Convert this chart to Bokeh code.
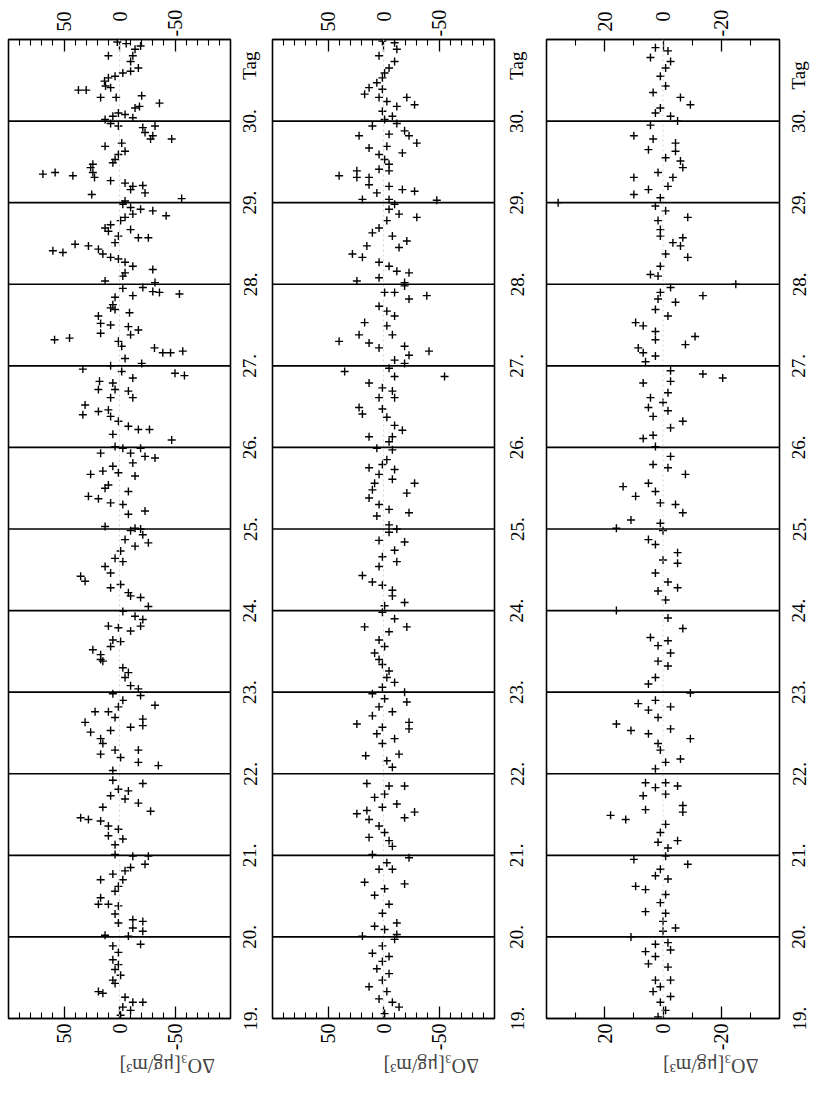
import math
from bokeh.plotting import figure
from bokeh.models import Range1d, FixedTicker, LinearAxis, Span
from bokeh.layouts import row
from bokeh.embed import file_html
from bokeh.resources import INLINE

# ---------------- data ----------------
tag_ticks = [19, 20, 21, 22, 23, 24, 25, 26, 27, 28, 29, 30]
tag_tick_labels = ["19.", "20.", "21.", "22.", "23.", "24.", "25.", "26.", "27.", "28.", "29.", "30."]
day_lines = [20, 21, 22, 23, 24, 25, 26, 27, 28, 29, 30]
tag_range = [19, 31]

panel1_range = 100
panel1_major = [-50, 0, 50]
panel1_minor = [-90, -80, -70, -60, -40, -30, -20, -10, 10, 20, 30, 40, 60, 70, 80, 90]
panel1_labels = ["-50", "0", "50"]

panel2_range = 100
panel2_major = [-50, 0, 50]
panel2_minor = [-90, -80, -70, -60, -40, -30, -20, -10, 10, 20, 30, 40, 60, 70, 80, 90]
panel2_labels = ["-50", "0", "50"]

panel3_range = 40
panel3_major = [-20, 0, 20]
panel3_minor = [-30, -10, 10, 30]
panel3_labels = ["-20", "0", "20"]

# (Tag, dO3) pairs
panel1_points = [
    (30.97, 2), (30.95, -6), (30.92, -19), (30.88, -14), (30.80, 10), (30.80, -12), (30.73, -10),
    (30.65, -17), (30.61, -10), (30.59, -3), (30.55, 4), (30.53, 10), (30.49, 13.5), (30.43, 12.6),
    (30.41, 8), (30.38, 37), (30.38, 30), (30.29, 17), (30.29, 3), (30.31, -20), (30.18, -18),
    (30.22, -36), (30.16, -14), (30.10, 1), (30.08, -5), (30.04, -12), (30.06, 6), (30.02, 13),
    (29.97, 8), (29.94, 1), (29.92, -21), (29.94, -32), (29.86, -23), (29.82, -30), (29.78, -47),
    (29.78, -28), (29.69, 13), (29.73, -2), (29.63, -5), (29.59, 1), (29.53, 4), (29.49, 6),
    (29.47, 24), (29.43, 26), (29.37, 24), (29.31, 22.5), (29.35, 69), (29.37, 58), (29.33, 42),
    (29.27, 8), (29.24, -5), (29.20, -12), (29.21, -21), (29.16, -10), (29.12, -23), (29.10, 25),
    (29.05, -56), (29.02, -5),
    (28.98, -3), (28.94, -10), (28.92, -19), (28.90, -30), (28.84, -42), (28.86, -12), (28.82, -5),
    (28.78, -1), (28.73, 8), (28.69, 13), (28.65, 10), (28.67, -10), (28.57, -17), (28.57, -26),
    (28.59, 1), (28.51, 4), (28.41, 60), (28.39, 51), (28.49, 40), (28.47, 28), (28.43, 19),
    (28.37, 15), (28.33, 8), (28.31, 1), (28.27, -5), (28.22, -12), (28.18, -30), (28.14, -5),
    (28.10, -3), (28.04, 13), (28.02, -32),
    (27.96, -21), (27.91, -30), (27.90, -36), (27.88, -54), (27.86, -12), (27.95, -3), (27.84, 4),
    (27.75, 6), (27.69, 4), (27.71, 8), (27.65, -9), (27.61, 19), (27.52, 17), (27.50, 8),
    (27.40, 17), (27.48, -8), (27.44, -17), (27.38, -10), (27.32, 58.5), (27.34, 45), (27.30, 1),
    (27.24, -2), (27.22, -31.5), (27.16, -39), (27.16, -46), (27.18, -57), (27.09, -5), (27.03, -20),
    (26.96, 33), (27.00, 8), (26.93, -2), (26.85, -12), (26.91, -50), (26.88, -58.5), (26.81, 18),
    (26.79, 6), (26.71, 19), (26.71, 4), (26.69, -8), (26.61, 8), (26.61, -12), (26.52, 31),
    (26.40, 33), (26.44, 19), (26.46, 10), (26.38, 8), (26.32, 1), (26.26, -8), (26.22, -17),
    (26.22, -27), (26.16, 6), (26.09, -47), (26.01, 4),
    (25.99, -3), (25.99, -19), (25.93, -10), (25.87, -32), (25.89, -23), (25.81, -12), (25.93, 17),
    (25.77, 6), (25.67, 26), (25.71, 15), (25.69, 1), (25.65, -14), (25.54, 10), (25.50, 13),
    (25.46, -8), (25.40, 28), (25.37, 19), (25.32, 8), (25.30, -3), (25.22, -23), (25.18, -8),
    (25.03, 13), (25.01, -14), (25.00, -19),
    (24.98, -10), (24.93, -21), (24.87, -5), (24.83, -26), (24.79, -14), (24.73, -1), (24.64, 4),
    (24.60, -3), (24.54, 13), (24.46, 8), (24.42, 35), (24.36, 31), (24.28, 8), (24.32, -1),
    (24.22, -8), (24.16, -19), (24.05, -26), (24.18, -10),
    (23.99, -3), (23.93, -14), (23.89, -21), (23.81, 10), (23.79, 1), (23.81, -19), (23.75, -10),
    (23.64, 6), (23.62, -1), (23.56, 8), (23.52, 24), (23.46, 17), (23.38, 15), (23.40, 17),
    (23.30, -3), (23.24, -8), (23.18, -5), (23.08, -10), (23.04, -17),
    (22.98, 6), (22.96, -19), (22.84, -32), (22.90, -3), (22.82, 1), (22.76, 22), (22.76, 10),
    (22.63, 31), (22.69, 4), (22.57, -10), (22.67, -21), (22.59, -21), (22.53, 8), (22.51, 26),
    (22.43, 17), (22.37, 15), (22.24, 17), (22.29, 4), (22.20, -1), (22.29, -17), (22.14, -17),
    (22.10, -35), (22.04, 6),
    (21.92, 6), (21.88, -21), (21.81, 1), (21.79, -8), (21.73, 8), (21.69, -5), (21.64, -17),
    (21.54, -28), (21.59, 15), (21.46, 35), (21.44, 28), (21.42, 17), (21.36, 10), (21.32, 1),
    (21.24, 10), (21.20, -3), (21.13, 4),
    (21.01, 4), (20.99, -12), (20.99, -26), (20.89, -23), (20.85, -10), (20.81, -5), (20.77, 6),
    (20.70, 17), (20.70, -3), (20.62, 1), (20.56, 4), (20.48, 17), (20.40, 19), (20.40, 10),
    (20.38, 1), (20.28, 4), (20.17, 1), (20.21, -12), (20.19, -21), (20.11, -12), (20.07, -21),
    (20.02, 13), (20.01, -8), (19.91, -19), (19.89, 6), (19.81, 1), (19.72, 6), (19.66, 1),
    (19.60, 4), (19.53, -1), (19.47, 6), (19.43, 4), (19.33, 19), (19.31, 15), (19.26, -5),
    (19.20, -12), (19.20, -21), (19.14, -3), (19.10, -10), (19.04, -1),
]

panel2_points = [
    (30.98, 1), (30.96, -10), (30.88, -12), (30.80, 4), (30.73, -10), (30.65, -5), (30.59, -1),
    (30.53, 1), (30.47, 6), (30.41, 13), (30.39, 1), (30.33, 17), (30.29, 4), (30.24, -3),
    (30.29, -21), (30.20, -28), (30.18, -12), (30.12, 1), (30.06, -8), (30.02, -1),
    (29.97, -12), (29.94, 10), (29.88, -19), (29.84, -5), (29.82, 22), (29.82, -23), (29.73, -30),
    (29.67, 13), (29.69, -3), (29.61, -17), (29.59, 4), (29.53, -1), (29.47, -5), (29.41, 4),
    (29.39, -5), (29.33, 40), (29.31, 24), (29.31, 13), (29.39, 24), (29.22, 13), (29.20, -5),
    (29.16, -17), (29.14, -28), (29.12, 6), (29.04, 19), (29.03, -48), (29.04, -5),
    (28.98, -10), (28.92, -5), (28.82, -30), (28.86, -14), (28.78, -3), (28.69, 4), (28.63, 10),
    (28.59, -8), (28.53, -21), (28.45, -14), (28.47, 15), (28.37, 28), (28.33, 19), (28.27, 4),
    (28.22, -5), (28.16, -12), (28.14, -23), (28.08, 4), (28.04, 24), (28.02, -19),
    (27.98, -19), (27.90, -10), (27.86, -39), (27.90, -1), (27.82, -23), (27.73, 4), (27.67, -3),
    (27.61, -10), (27.53, 17), (27.38, 22), (27.49, -3), (27.38, -8), (27.30, 40), (27.28, 13),
    (27.22, 4), (27.24, -19), (27.13, -23), (27.18, -41), (27.07, -10), (27.03, -19),
    (26.97, -5), (26.93, 35), (26.87, -55), (26.87, -10), (26.79, 13), (26.73, 1), (26.69, -8),
    (26.61, 4), (26.61, -10), (26.49, 22), (26.47, 1), (26.41, 19), (26.37, -3), (26.27, -10),
    (26.21, -17), (26.13, 13), (26.13, -8), (26.07, -5),
    (25.99, 6), (25.97, -8), (25.85, -3), (25.79, 1), (25.75, 13), (25.73, -10), (25.67, 4),
    (25.61, -8), (25.56, -28), (25.56, 8), (25.48, 10), (25.44, -21), (25.38, 13), (25.30, 4),
    (25.24, -5), (25.20, -23), (25.16, 6), (25.05, -5), (25.00, -12),
    (24.96, -5), (24.84, -19), (24.86, 4), (24.74, -10), (24.66, 1), (24.60, -12), (24.54, 4),
    (24.43, 19), (24.35, 10), (24.31, 1), (24.25, -8), (24.18, -8), (24.10, -19), (24.06, -1),
    (23.98, 1), (23.90, -10), (23.80, 17), (23.80, -21), (23.74, -5), (23.64, 4), (23.56, -1),
    (23.48, 8), (23.40, 4), (23.34, 1), (23.26, -5), (23.18, -3), (23.12, -10), (23.06, 1),
    (22.98, 10), (23.00, -19), (22.92, -1), (22.88, -21), (22.82, 4), (22.71, 10), (22.76, -8),
    (22.63, -23), (22.61, 24), (22.55, -23), (22.57, 1), (22.49, 6), (22.43, -10), (22.37, 1),
    (22.24, -14), (22.22, 16), (22.16, -3), (22.08, -8),
    (21.88, 15), (21.85, -5), (21.85, -19), (21.75, -1), (21.71, 8), (21.63, -12), (21.59, 1),
    (21.51, 24), (21.55, 15), (21.46, -19), (21.53, -28), (21.44, 13), (21.36, 4), (21.28, -1),
    (21.22, 13), (21.18, -5), (21.11, -8),
    (21.01, 10), (20.97, -23), (20.91, -3), (20.83, 4), (20.83, -8), (20.67, 17), (20.65, -19),
    (20.59, -1), (20.51, 8), (20.40, -5), (20.29, 1), (20.17, -12), (20.13, 8), (20.09, -1),
    (20.03, -12),
    (20.01, 19), (19.97, -10), (19.89, 1), (19.80, 10), (19.76, -5), (19.70, 1), (19.61, 6),
    (19.55, -5), (19.47, 1), (19.39, 13), (19.33, -3), (19.24, 4), (19.20, -8), (19.14, -14),
    (19.06, -1),
]

panel3_points = [
    (30.90, 2.6), (30.86, -1.7), (30.78, 4.3), (30.73, -2.6), (30.65, -0.9), (30.55, 0.9),
    (30.43, -0.9), (30.35, 3.4), (30.29, -6), (30.20, -9.4), (30.16, 0.9), (30.10, 2.6),
    (30.06, -2.6), (30.00, -5),
    (29.95, 4.3), (29.82, 10), (29.78, 3.4), (29.73, -4.3), (29.65, 5), (29.63, -4.3),
    (29.55, -0.9), (29.51, -6), (29.43, -6.8), (29.37, 1.7), (29.31, 10), (29.31, -3.4),
    (29.20, -1.7), (29.16, 5), (29.10, 10), (29.06, 0.9), (29.00, 36),
    (28.96, 2.6), (28.90, -0.9), (28.82, -8.5), (28.78, 1.7), (28.67, 0.9), (28.57, -6.8),
    (28.59, 0.9), (28.51, -3.4), (28.47, -6), (28.37, -0.9), (28.33, -8.5), (28.22, 0.9),
    (28.12, 4.3), (28.10, 1.7),
    (28.00, -25), (27.96, -2.6), (27.90, 0.9), (27.86, -13.7), (27.82, 1.7), (27.78, -4.3),
    (27.69, 2.6), (27.61, -1.7), (27.53, 9.4), (27.49, 6.8), (27.42, 2.6), (27.32, 2.6),
    (27.36, -11), (27.26, -7.7), (27.22, 8.5), (27.16, 6.8), (27.12, 2.6), (27.05, 6),
    (26.94, -2.6), (26.90, -13.7), (26.85, -20.5), (26.79, 6.8), (26.81, -2.6), (26.67, -1.7),
    (26.61, 4.3), (26.55, 0), (26.49, 5), (26.45, -1.7), (26.38, 3.4), (26.32, -6.8),
    (26.24, -2.6), (26.11, 6.8), (26.15, 3.4), (26.01, 2.6),
    (25.89, -2.6), (25.79, 3.4), (25.75, -1.7), (25.67, -7.7), (25.56, 5), (25.52, 13.7),
    (25.46, 2.6), (25.40, 9.4), (25.32, 0.9), (25.30, -4.3), (25.20, -6.8), (25.11, 11),
    (25.07, 0.9), (25.01, 16),
    (24.98, 0), (24.87, 5), (24.81, 2.6), (24.71, -5), (24.62, 0), (24.58, -5), (24.46, 2.6),
    (24.35, -1.7), (24.28, -5), (24.24, 1.7), (24.13, -0.9), (24.00, 16),
    (23.91, -1.7), (23.78, -6.8), (23.67, 4.3), (23.63, -1.7), (23.57, 1.7), (23.48, -2.6),
    (23.38, 1.7), (23.32, -1.7), (23.18, 2.6), (23.10, 5), (22.99, -9.4),
    (22.86, 8.5), (22.90, 2.6), (22.82, -2.6), (22.78, 5), (22.69, 1.7), (22.61, 16),
    (22.53, 11), (22.49, 5), (22.55, -2.6), (22.43, -9.4), (22.37, 1.7), (22.29, 0.9),
    (22.18, -6), (22.14, -0.9), (22.06, 2.6),
    (21.89, 6), (21.89, -0.9), (21.83, 2.6), (21.85, -5), (21.73, 6.8), (21.75, -0.9),
    (21.56, 6), (21.61, -6.8), (21.49, 18), (21.44, 12.8), (21.53, -6.8), (21.38, -0.9),
    (21.28, 0.9), (21.18, -5), (21.16, 1.7), (21.09, -1.7),
    (20.95, 10), (20.99, -0.9), (20.89, -8.5), (20.83, 0.9), (20.75, 2.6), (20.71, -1.7),
    (20.62, 9.4), (20.58, 6), (20.52, -0.9), (20.42, 0.9), (20.31, 6), (20.29, -0.9),
    (20.19, 0), (20.11, -4.3), (20.07, 0), (20.00, 11),
    (19.93, -1.7), (19.91, 2.6), (19.82, 6), (19.84, -2.6), (19.76, 2.6), (19.67, 5),
    (19.63, -1.7), (19.47, 2.6), (19.47, -2.6), (19.39, 0.9), (19.33, 3.4), (19.27, -2.6),
    (19.20, 0.9), (19.10, -0.9), (19.02, 1.7),
]

axis_title = "ΔO₃[μg/m³]"
tag_title = "Tag"

# ---------------- drawing ----------------
FONT = "Liberation Serif"
FIG_H = 1094
TOP, BOTTOM = 39, 76

# pad so that the top labels line up at their far end (as in the scan)
PAD = {1: "\u2007\u2008", 2: "\u2008"}


def tag_axis(tag_pos, standoff):
    """Axis with the Tag labels (19. ... 30. and 'Tag'), read bottom-to-top."""
    ticks = tag_ticks + [tag_pos]
    overrides = {t: s for t, s in zip(tag_ticks, tag_tick_labels)}
    overrides[tag_pos] = tag_title
    return LinearAxis(ticker=FixedTicker(ticks=ticks, minor_ticks=[]),
                      major_tick_line_color=None, minor_tick_line_color=None,
                      axis_line_color=None,
                      major_label_overrides=overrides,
                      major_label_orientation="vertical",
                      major_label_text_font=FONT, major_label_text_font_size="19px",
                      major_label_text_color="black",
                      major_label_standoff=standoff)


def base_fig(width, bl, br, x_range):
    p = figure(width=width, height=FIG_H,
               x_range=x_range, y_range=Range1d(tag_range[0], tag_range[1]),
               output_backend="svg", toolbar_location=None,
               x_axis_location=None, y_axis_location=None,
               min_border_left=bl, min_border_right=br,
               min_border_top=TOP, min_border_bottom=BOTTOM)
    p.background_fill_color = "white"
    p.border_fill_color = "white"
    for g in p.grid:
        g.visible = False
    return p


def make_panel(points, lim, major, minor, labels, width, bl, br, left_tag=None):
    p = base_fig(width, bl, br, Range1d(lim, -lim))
    p.outline_line_color = "black"
    p.outline_line_width = 1.6

    for loc in ("below", "above"):
        if loc == "above":
            overrides = {v: PAD.get(len(t), "") + t for v, t in zip(major, labels)}
        else:
            overrides = {v: t for v, t in zip(major, labels)}
        ax = LinearAxis(ticker=FixedTicker(ticks=major, minor_ticks=minor),
                        major_tick_in=12, major_tick_out=0,
                        minor_tick_in=6, minor_tick_out=0,
                        major_tick_line_width=1.3, minor_tick_line_width=1.1,
                        axis_line_width=1.6, axis_line_color="black",
                        major_label_overrides=overrides,
                        major_label_orientation=math.pi / 2,
                        major_label_text_font=FONT, major_label_text_font_size="20px",
                        major_label_text_color="black",
                        major_label_standoff=5 if loc == "below" else 3)
        if loc == "below":
            ax.axis_label = axis_title
            ax.axis_label_text_font = FONT
            ax.axis_label_text_font_size = "20px"
            ax.axis_label_text_font_style = "normal"
            ax.axis_label_standoff = 13
            try:
                ax.axis_label_orientation = math.pi
            except Exception:
                pass
        p.add_layout(ax, loc)

    # the Tag labels of the panel to the left sit in this panel's left margin
    if left_tag is not None:
        p.add_layout(tag_axis(*left_tag), "left")

    p.add_layout(Span(location=0, dimension="height", line_color="#d4d4d4",
                      line_width=1, line_dash="2 3"))
    for d in day_lines:
        p.add_layout(Span(location=d, dimension="width", line_color="black", line_width=1.6))

    days = [pt[0] for pt in points]
    vals = [pt[1] for pt in points]
    p.scatter(x=vals, y=days, marker="cross", size=8, line_color="black", line_width=1.4)
    return p


# panel frames: 8-230, 272-494, 546-779 (px)
p1 = make_panel(panel1_points, panel1_range, panel1_major, panel1_minor, panel1_labels,
                236, 8, 6)
p2 = make_panel(panel2_points, panel2_range, panel2_major, panel2_minor, panel2_labels,
                264, 36, 6, left_tag=(30.68, 6))
p3 = make_panel(panel3_points, panel3_range, panel3_major, panel3_minor, panel3_labels,
                285, 46, 6, left_tag=(30.68, 13))

# narrow strip that carries the Tag labels of the third panel
strip = base_fig(43, 37, 5, Range1d(0, 1))
strip.outline_line_color = None
strip.add_layout(tag_axis(30.56, 7), "left")

layout = row(p1, p2, p3, strip)
open("out.html", "w").write(file_html(layout, INLINE))
